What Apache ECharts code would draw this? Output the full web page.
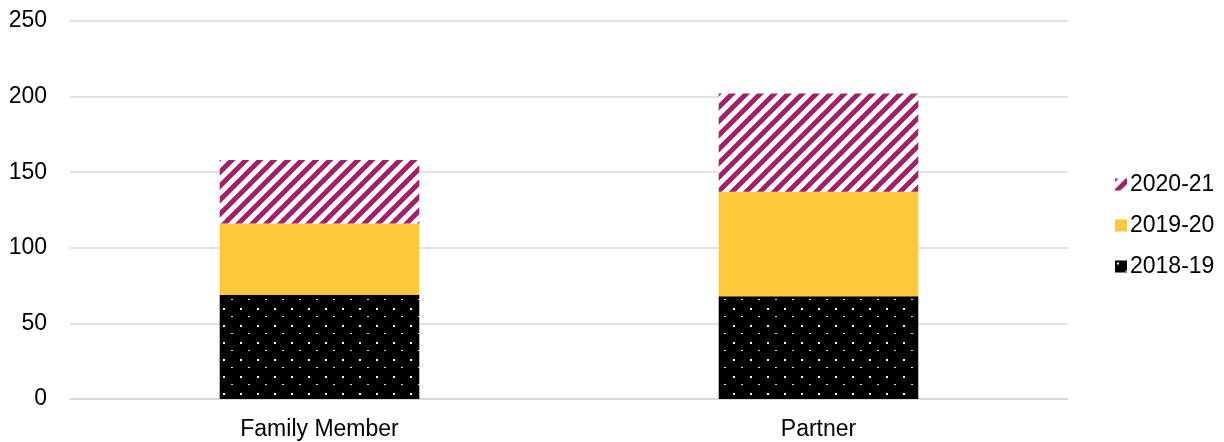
<!DOCTYPE html>
<html>
<head>
<meta charset="utf-8">
<script src="https://cdn.jsdelivr.net/npm/echarts@6/dist/echarts.min.js"></script>
<style>html,body{margin:0;padding:0;background:#fff}#c{width:1224px;height:442px}</style>
</head>
<body>
<div id="c"></div>
<script>
var categories = ['Family Member', 'Partner'];
var s2018 = [69, 68];
var s2019 = [47, 69];
var s2020 = [42, 65];
var seriesNames = ['2018-19', '2019-20', '2020-21'];
var yTicks = [0, 50, 100, 150, 200, 250];

function dotPattern() {
  var c = document.createElement('canvas');
  c.width = 17; c.height = 17;
  var g = c.getContext('2d');
  g.fillStyle = '#000'; g.fillRect(0, 0, 17, 17);
  g.fillStyle = '#fff';
  g.fillRect(2, 2, 2, 2);
  g.fillStyle = '#ddd';
  g.fillRect(10, 10, 2, 1);
  return c;
}
function stripePattern() {
  var s = 14;
  var c = document.createElement('canvas');
  c.width = s; c.height = s;
  var g = c.getContext('2d');
  g.fillStyle = '#fff'; g.fillRect(0, 0, s, s);
  g.strokeStyle = '#A1206B';
  g.lineWidth = 5;
  g.beginPath();
  g.moveTo(-s, s * 2); g.lineTo(s * 2, -s);
  g.moveTo(-s * 2, s * 2); g.lineTo(s, -s);
  g.moveTo(0, s * 2); g.lineTo(s * 3, -s);
  g.stroke();
  return c;
}

var chart = echarts.init(document.getElementById('c'));
var font = 'Liberation Sans, Arial, sans-serif';
chart.setOption({
  animation: false,
  grid: { left: 70, right: 156, top: 21, bottom: 43 },
  legend: {
    data: ['2020-21', '2019-20', '2018-19'],
    orient: 'vertical',
    left: 1110,
    top: 168,
    itemWidth: 12,
    itemHeight: 12,
    itemGap: 18,
    icon: 'rect',
    textStyle: { fontFamily: font, fontSize: 23, color: '#000', padding: [0, 0, 0, -2] }
  },
  xAxis: {
    type: 'category',
    data: categories,
    axisLine: { lineStyle: { color: '#d9d9d9', width: 1.5 } },
    axisTick: { show: false },
    axisLabel: { fontFamily: font, fontSize: 23, color: '#000', margin: 19 }
  },
  yAxis: {
    type: 'value',
    min: yTicks[0],
    max: yTicks[yTicks.length - 1],
    interval: 50,
    axisLine: { show: false },
    axisTick: { show: false },
    splitLine: { lineStyle: { color: '#d9d9d9', width: 1.5 } },
    axisLabel: { fontFamily: font, fontSize: 23, color: '#000', margin: 23 }
  },
  series: [
    { name: seriesNames[0], type: 'bar', stack: 't', barWidth: '40%', data: s2018,
      itemStyle: { color: { image: dotPattern(), repeat: 'repeat' } } },
    { name: seriesNames[1], type: 'bar', stack: 't', barWidth: '40%', data: s2019,
      itemStyle: { color: '#FFC83A' } },
    { name: seriesNames[2], type: 'bar', stack: 't', barWidth: '40%', data: s2020,
      itemStyle: { color: { image: stripePattern(), repeat: 'repeat' } } }
  ]
});
</script>
</body>
</html>
